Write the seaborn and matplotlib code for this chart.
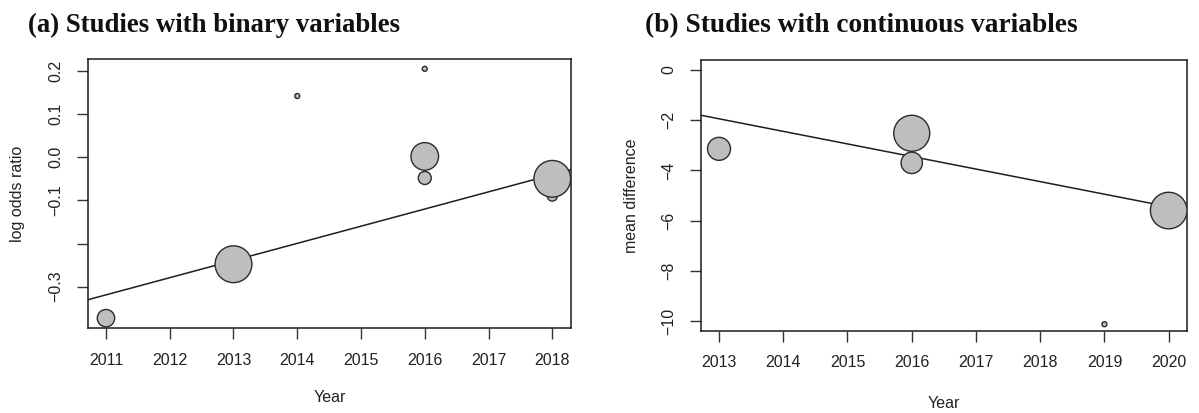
import numpy as np
import pandas as pd
import matplotlib
matplotlib.use("Agg")
import matplotlib.pyplot as plt
import seaborn as sns

# ---------------- data ----------------
# (a) binary outcomes: year, log odds ratio, study weight (marker area, pt^2)
bin_year = [2011, 2013, 2014, 2016, 2016, 2016, 2018, 2018]
bin_lor = [-0.373, -0.248, 0.142, 0.205, 0.002, -0.048, -0.090, -0.050]
bin_weight = [157, 702, 13, 13, 395, 88, 52, 700]
bin_fit = [-0.319, 0.0398]  # intercept at 2011, slope per year

# (b) continuous outcomes: year, mean difference, study weight
con_year = [2013, 2016, 2016, 2019, 2020]
con_md = [-3.14, -2.52, -3.70, -10.13, -5.60]
con_weight = [274, 672, 237, 13, 694]
con_fit = [-1.943, -0.5008]  # intercept at 2013, slope per year

bin_xticks = [2011, 2012, 2013, 2014, 2015, 2016, 2017, 2018]
bin_yticks = [-0.3, -0.2, -0.1, 0.0, 0.1, 0.2]
bin_yticklabels = ["\u22120.3", "", "\u22120.1", "0.0", "0.1", "0.2"]
con_xticks = [2013, 2014, 2015, 2016, 2017, 2018, 2019, 2020]
con_yticks = [0, -2, -4, -6, -8, -10]
con_yticklabels = ["0", "\u22122", "\u22124", "\u22126", "\u22128", "\u221210"]

titles = ["(a) Studies with binary variables", "(b) Studies with continuous variables"]
ylabels = ["log odds ratio", "mean difference"]

# ---------------- style ----------------
sns.set_theme(style="white")
plt.rcParams["font.family"] = ["Liberation Sans", "DejaVu Sans"]

W, H = 1199, 413
fig = plt.figure(figsize=(W / 100, H / 100), dpi=100)
fig.patch.set_facecolor("white")

def frac(l, r, t, b):
    return [l / W, 1 - b / H, (r - l) / W, (b - t) / H]

ax1 = fig.add_axes(frac(88, 570.7, 59, 328.3))
ax2 = fig.add_axes(frac(700.7, 1187, 60, 331))

df1 = pd.DataFrame({"year": bin_year, "y": bin_lor, "w": bin_weight})
df2 = pd.DataFrame({"year": con_year, "y": con_md, "w": con_weight})

fill = "#BEBEBE"
edge = "#2b2b2b"
tick_col = "#333333"

setups = [
    (ax1, df1, bin_fit, 2011, (2010.718, 2018.289), (-0.3965, 0.2278),
     bin_xticks, bin_yticks, bin_yticklabels),
    (ax2, df2, con_fit, 2013, (2012.715, 2020.285), (-10.40, 0.40),
     con_xticks, con_yticks, con_yticklabels),
]

for i, (ax, df, fit, x0, xlim, ylim, xt, yt, ytl) in enumerate(setups):
    ax.set_facecolor("white")
    ax.set_xlim(*xlim)
    ax.set_ylim(*ylim)
    xs = np.array(xlim)
    ax.plot(xs, fit[0] + fit[1] * (xs - x0), color="#1e1e1e", lw=1.1, zorder=2)
    lo, hi = min(df["w"]), max(df["w"])
    sns.scatterplot(data=df, x="year", y="y", size="w", sizes=(lo, hi),
                    size_norm=(lo, hi), color=fill, edgecolor=edge,
                    linewidth=1.0, legend=False, ax=ax, zorder=3)
    ax.set_xlim(*xlim)
    ax.set_ylim(*ylim)
    ax.set_xticks(xt)
    ax.set_xticklabels([str(v) for v in xt])
    ax.set_yticks(yt)
    ax.set_yticklabels(ytl, rotation=90, va="center")
    ax.tick_params(axis="both", direction="out", length=8, width=1.0,
                   color=tick_col, labelcolor="#222222", labelsize=11.5, pad=9.5,
                   bottom=True, left=True)
    for sp in ax.spines.values():
        sp.set_color("#1a1a1a")
        sp.set_linewidth(1.1)
    ax.set_xlabel("Year", fontsize=11.5, color="#222222")
    ax.set_ylabel(ylabels[i], fontsize=11.5, color="#222222")

# position y labels and x labels to match reference
ax1.yaxis.set_label_coords((25 - 88) / (570.7 - 88), 0.5)
ax2.yaxis.set_label_coords((639 - 700.7) / (1187 - 700.7), 0.5)
ax1.xaxis.set_label_coords(0.5, (328.3 - 390) / (328.3 - 59))
ax2.xaxis.set_label_coords(0.5, (331 - 396) / (331 - 60))

# titles, scaled to the reference width
targets = [(28, 399), (645, 1077)]
renderer = fig.canvas.get_renderer()
for t, (xl, xr) in zip(titles, targets):
    txt = fig.text(xl / W, 1 - 32 / H, t, family=["Liberation Serif", "DejaVu Serif"],
                   fontweight="bold", fontsize=18, ha="left", va="baseline",
                   color="#111111")
    wpx = txt.get_window_extent(renderer).width
    txt.set_fontsize(18 * (xr - xl) / wpx)

fig.savefig("out.png", dpi=100, facecolor="white")
